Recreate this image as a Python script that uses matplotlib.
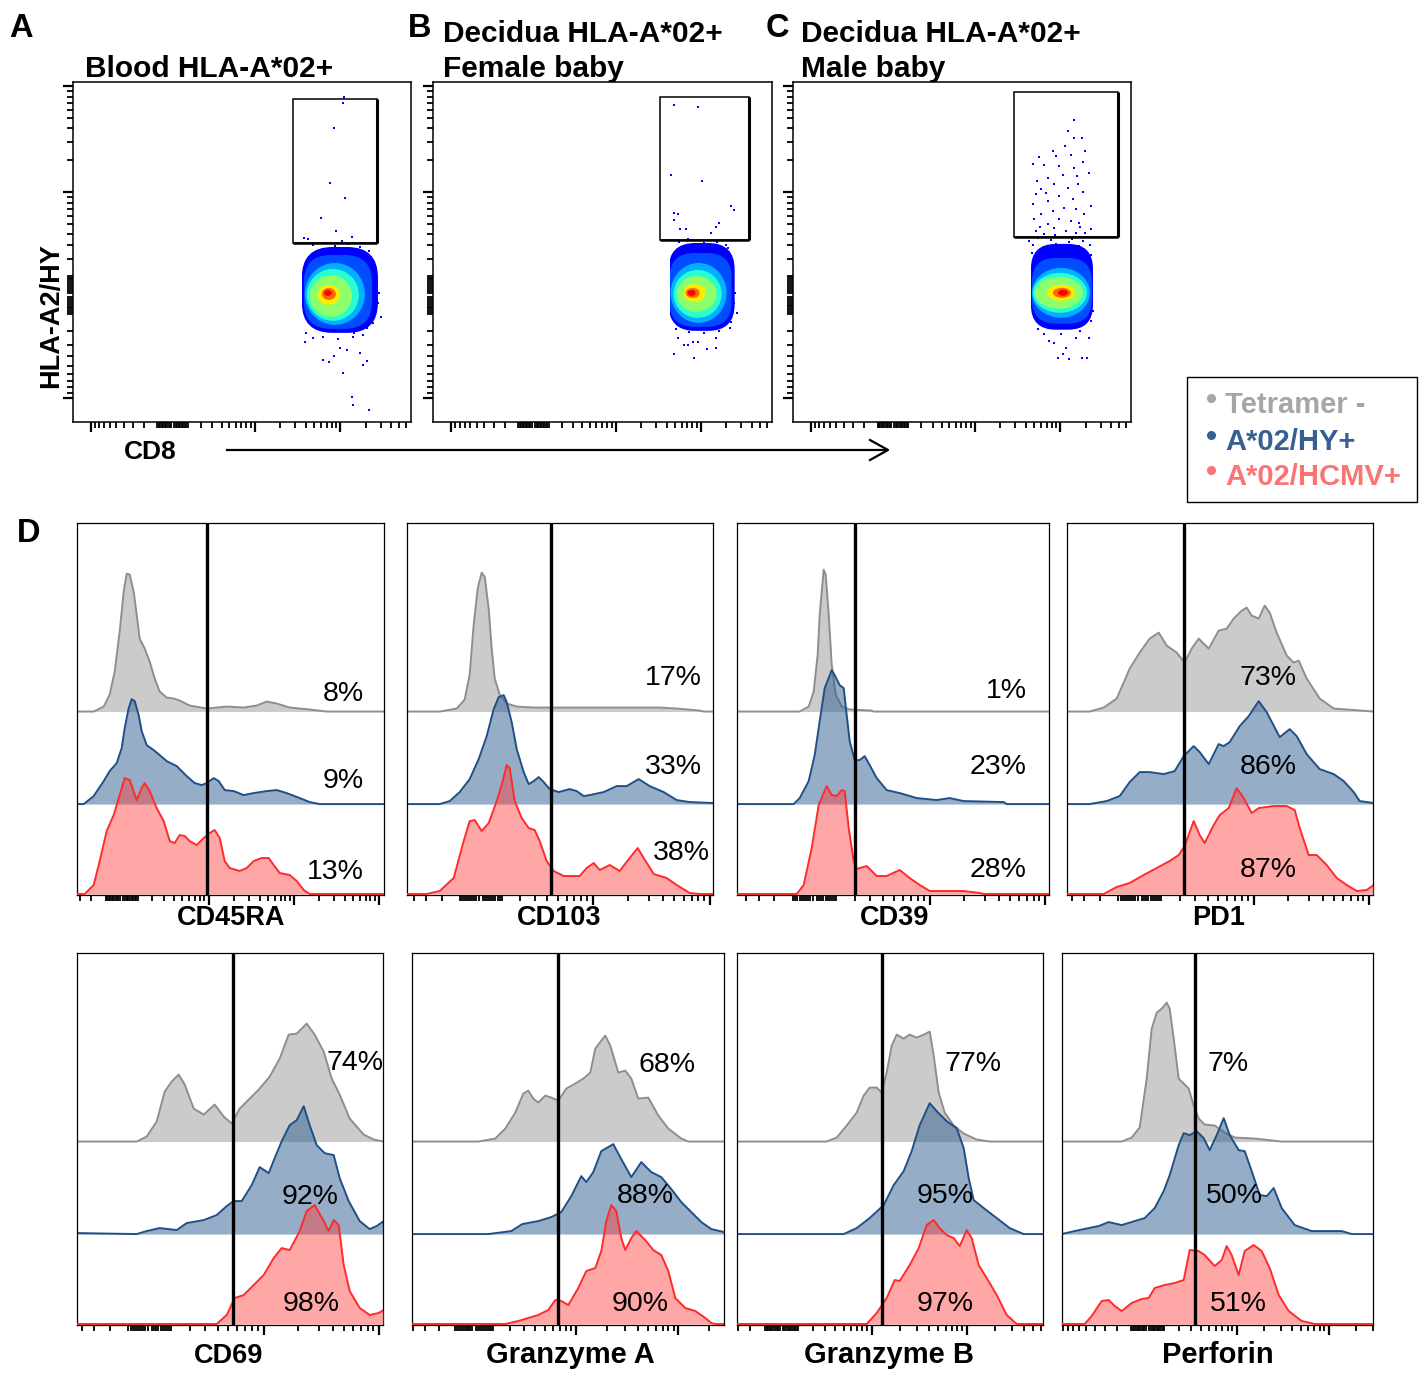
import numpy as np
import matplotlib
matplotlib.use("Agg")
import matplotlib.pyplot as plt
from matplotlib.patches import Ellipse, Rectangle, FancyBboxPatch

plt.rcParams['font.family'] = ['Liberation Sans', 'DejaVu Sans']

W, H = 1424, 1373

# ---------------------------------------------------------------
# Panels A-C: CD8 vs HLA-A2/HY tetramer (display channels)
# ---------------------------------------------------------------
SAMPLES = ['Blood HLA-A*02+', 'Decidua HLA-A*02+\nFemale baby', 'Decidua HLA-A*02+\nMale baby']
TETRAMER_PCT = ['0.03%', '0.06%', '1.5%']

# tetramer+ gates (x0, y0, x1, y1)
BLOOD_GATE = (220, 180, 304, 324)
FEMALE_GATE = (226, 183, 315, 326)
MALE_GATE = (221, 186, 325, 331)

# density contours of the CD8+ cloud, outer -> inner (cx, cy, rx, ry)
BLOOD_LEVELS = [(267, 133, 38, 43), (265, 131, 34, 37), (262, 129, 30, 31), (260, 128, 26, 26),
                (258, 127, 21, 21), (256, 128, 11, 10), (256, 129, 7, 6), (255, 130, 4, 3)]
FEMALE_LEVELS = [(268, 136, 33, 44), (267, 133, 31, 37), (265, 130, 28, 30), (264, 129, 24, 24),
                 (263, 129, 20, 18), (261, 130, 11, 9), (259, 130, 7, 5), (258, 130, 4, 3)]
MALE_LEVELS = [(269, 136, 31, 43), (269, 132, 30, 33), (268, 130, 29, 25), (267, 130, 27, 20),
               (266, 130, 24, 16), (268, 130, 14, 8), (269, 130, 9, 5), (270, 130, 5, 3)]
LEVEL_SHADES = [0.12, 0.2, 0.3, 0.4, 0.52, 0.66, 0.8, 0.9]
CLOUD_EDGE = [229, 236, 238]  # lowest CD8 channel with events

# sparse events outside the dense cloud
BLOOD_EVENTS = [(271, 326), (270, 320), (261, 295), (257, 240), (272, 225), (248, 205), (263, 192),
                (231, 185), (235, 184), (269, 182), (279, 186), (232, 81), (250, 63), (256, 61),
                (261, 67), (267, 75), (274, 73), (287, 70), (270, 50), (290, 58), (294, 62),
                (279, 26), (280, 18), (296, 13), (308, 106), (304, 145), (300, 116), (294, 95),
                (281, 90), (240, 178), (252, 180), (262, 177), (275, 179), (287, 176), (296, 172),
                (300, 160), (303, 150), (306, 130), (305, 120), (300, 100), (290, 88), (280, 86),
                (265, 84), (250, 86), (240, 85), (233, 90)]
FEMALE_EVENTS = [(240, 318), (264, 316), (237, 248), (268, 242), (297, 217), (300, 213), (240, 210),
                 (244, 209), (240, 203), (246, 194), (252, 194), (282, 196), (285, 200), (277, 190),
                 (254, 184), (244, 85), (250, 78), (254, 78), (259, 81), (264, 81), (240, 69),
                 (260, 65), (273, 74), (282, 75), (282, 85), (297, 101), (300, 120), (299, 140),
                 (297, 163), (294, 175), (245, 181), (258, 183), (270, 180), (283, 181), (292, 178),
                 (301, 130), (303, 110), (296, 95), (285, 92), (270, 90), (255, 91), (242, 94)]
MALE_EVENTS = [(281, 303), (275, 292), (281, 285), (289, 285), (272, 277), (278, 268), (263, 267),
               (246, 266), (290, 261), (266, 257), (251, 258), (240, 259), (281, 255), (296, 250),
               (270, 248), (255, 245), (244, 242), (285, 239), (261, 239), (275, 235), (248, 234),
               (290, 231), (243, 229), (266, 227), (280, 224), (255, 222), (298, 217), (240, 219),
               (271, 215), (283, 214), (260, 212), (248, 209), (291, 209), (241, 204), (266, 204),
               (278, 202), (286, 200), (255, 199), (261, 195), (298, 194), (243, 192), (273, 192),
               (283, 190), (251, 189), (245, 185), (258, 183), (268, 186), (279, 184), (290, 182),
               (297, 178), (240, 178), (252, 176), (263, 179), (286, 177), (294, 186), (239, 170),
               (298, 168), (256, 82), (261, 80), (265, 65), (270, 69), (273, 75), (276, 64),
               (289, 65), (294, 65), (283, 85), (296, 85), (245, 94), (251, 89), (268, 89),
               (287, 92), (298, 102), (300, 112), (247, 196), (262, 188), (287, 196), (236, 182),
               (276, 181), (292, 190), (253, 230), (284, 247), (260, 272), (292, 272)]

# ---------------------------------------------------------------
# Panel D: histograms (channel, normalised count) per population
# ---------------------------------------------------------------
CD45RA_NEG = [(17, 0), (27, 5), (33, 17), (38, 40), (43, 80), (47, 120), (50, 138), (53, 137), (57, 120),
              (60, 97), (63, 73), (68, 63), (73, 50), (78, 33), (83, 20), (90, 14), (97, 13), (103, 11),
              (113, 6), (130, 3), (150, 5), (167, 4), (180, 6), (190, 10), (200, 8), (213, 4), (233, 2), (250, 0)]
CD45RA_HY = [(7, 0), (17, 8), (27, 23), (33, 33), (40, 41), (45, 56), (48, 76), (52, 96), (55, 105), (58, 103),
             (62, 89), (65, 73), (70, 59), (77, 54), (83, 49), (90, 43), (100, 38), (110, 28), (118, 21),
             (125, 19), (130, 21), (137, 26), (142, 23), (148, 14), (157, 13), (167, 9), (177, 11), (190, 13),
             (200, 14), (210, 11), (223, 6), (233, 2), (243, 0)]
CD45RA_HCMV = [(8, 0), (17, 9), (23, 33), (30, 63), (37, 79), (43, 99), (48, 116), (53, 114), (60, 94),
               (65, 106), (68, 111), (73, 103), (80, 86), (87, 73), (93, 53), (98, 51), (103, 59), (108, 58),
               (113, 53), (120, 49), (127, 56), (133, 61), (138, 64), (143, 56), (148, 33), (153, 26),
               (163, 23), (170, 26), (177, 33), (185, 36), (192, 36), (197, 29), (203, 21), (213, 19),
               (220, 13), (227, 4), (233, 0)]

CD103_NEG = [(33, 0), (50, 3), (58, 12), (63, 37), (67, 87), (71, 123), (75, 139), (78, 135), (82, 103),
             (85, 63), (88, 33), (93, 17), (100, 8), (110, 5), (127, 4), (193, 4), (253, 4), (270, 3),
             (293, 1), (297, 0)]
CD103_HY = [(33, 0), (43, 3), (53, 12), (63, 25), (72, 45), (80, 68), (87, 95), (92, 107), (97, 109),
            (100, 102), (105, 82), (110, 55), (117, 32), (122, 20), (127, 23), (132, 27), (137, 22),
            (143, 15), (152, 12), (163, 15), (170, 13), (177, 8), (183, 9), (197, 12), (210, 18), (220, 18),
            (232, 25), (243, 18), (257, 12), (270, 4), (283, 2), (307, 1)]
CD103_HCMV = [(20, 0), (33, 3), (47, 16), (57, 53), (63, 73), (68, 74), (75, 63), (82, 71), (90, 93),
              (95, 109), (100, 129), (103, 126), (108, 93), (115, 76), (122, 66), (128, 64), (133, 53),
              (140, 33), (147, 23), (157, 18), (173, 18), (180, 26), (187, 31), (193, 24), (203, 29),
              (213, 23), (223, 36), (231, 46), (237, 36), (247, 20), (260, 16), (270, 9), (283, 1), (293, 0)]

CD39_NEG = [(63, 0), (72, 5), (77, 20), (81, 57), (83, 97), (87, 142), (89, 137), (92, 97), (95, 47),
            (99, 17), (105, 5), (113, 2), (135, 1), (137, 0)]
CD39_HY = [(57, 0), (63, 6), (72, 23), (78, 49), (83, 83), (88, 116), (95, 134), (98, 129), (103, 119),
           (107, 116), (110, 89), (113, 63), (118, 44), (123, 44), (128, 48), (133, 39), (140, 26),
           (150, 14), (163, 11), (180, 6), (200, 4), (213, 6), (227, 3), (267, 2), (270, 0)]
CD39_HCMV = [(60, 0), (67, 9), (75, 46), (82, 89), (90, 108), (95, 99), (100, 98), (105, 104), (108, 103),
             (112, 66), (117, 33), (120, 25), (130, 28), (140, 18), (150, 18), (163, 24), (173, 16),
             (183, 9), (193, 3), (227, 3), (243, 1), (247, 0)]

PD1_NEG = [(23, 0), (37, 4), (50, 13), (57, 29), (63, 43), (73, 59), (83, 73), (92, 79), (100, 66),
           (110, 59), (118, 49), (125, 63), (132, 73), (142, 63), (152, 81), (160, 83), (167, 93),
           (175, 101), (180, 104), (185, 96), (192, 93), (198, 106), (203, 99), (210, 79), (220, 56),
           (227, 49), (232, 51), (240, 33), (253, 13), (267, 3), (307, 0)]
PD1_HY = [(23, 0), (40, 3), (53, 8), (63, 22), (73, 32), (83, 32), (97, 30), (108, 33), (117, 48),
          (127, 58), (133, 52), (142, 40), (152, 60), (157, 58), (163, 62), (173, 78), (182, 88),
          (192, 103), (200, 92), (213, 67), (223, 75), (230, 68), (240, 50), (253, 35), (267, 30),
          (277, 23), (287, 12), (293, 3), (307, 1)]
PD1_HCMV = [(37, 0), (50, 7), (63, 11), (77, 19), (90, 26), (103, 33), (112, 39), (118, 48), (127, 73),
            (133, 59), (138, 51), (147, 69), (153, 79), (162, 86), (170, 106), (177, 96), (185, 81),
            (192, 86), (207, 88), (220, 88), (228, 84), (233, 66), (242, 39), (250, 39), (260, 29),
            (270, 16), (280, 9), (290, 3), (300, 4), (307, 9)]

CD69_NEG = [(60, 0), (70, 5), (80, 20), (88, 50), (95, 60), (102, 67), (108, 57), (117, 33), (127, 27),
            (138, 37), (147, 25), (155, 18), (163, 33), (173, 43), (183, 53), (193, 65), (203, 83),
            (212, 107), (220, 108), (230, 118), (238, 107), (247, 90), (255, 63), (263, 47), (273, 23),
            (287, 7), (297, 2), (307, 0)]
CD69_HY = [(0, 1), (60, 0), (70, 3), (83, 6), (100, 4), (110, 11), (127, 14), (140, 19), (150, 28),
           (157, 33), (165, 33), (175, 49), (183, 67), (192, 61), (198, 76), (205, 93), (213, 109),
           (220, 114), (227, 128), (233, 109), (240, 89), (248, 81), (257, 79), (263, 56), (272, 33),
           (283, 13), (293, 5), (300, 8), (307, 13)]
CD69_HCMV = [(140, 0), (150, 9), (158, 26), (167, 29), (177, 39), (187, 49), (197, 66), (205, 76),
             (213, 74), (223, 93), (230, 113), (238, 119), (247, 103), (252, 93), (257, 104), (262, 99),
             (267, 59), (273, 33), (283, 16), (293, 9), (302, 11), (307, 14)]

GZMA_NEG = [(66, 0), (83, 3), (93, 13), (103, 29), (111, 48), (116, 51), (121, 43), (126, 39), (133, 46),
            (139, 44), (146, 41), (154, 53), (163, 58), (171, 63), (178, 69), (183, 93), (189, 101),
            (193, 106), (198, 96), (206, 69), (213, 71), (219, 63), (226, 43), (236, 44), (246, 26),
            (256, 13), (269, 3), (276, 0)]
GZMA_HY = [(76, 0), (99, 3), (110, 10), (126, 13), (139, 17), (149, 22), (159, 38), (169, 58), (174, 52),
           (181, 62), (189, 83), (201, 90), (209, 75), (219, 57), (229, 72), (239, 62), (249, 57),
           (259, 45), (269, 32), (279, 22), (289, 12), (299, 5), (312, 2)]
GZMA_HCMV = [(93, 0), (106, 3), (126, 9), (136, 14), (143, 24), (149, 23), (156, 19), (166, 36),
             (174, 53), (183, 56), (189, 73), (194, 103), (199, 119), (204, 113), (209, 86), (213, 74),
             (219, 86), (224, 93), (233, 84), (241, 74), (249, 69), (256, 53), (263, 26), (273, 16),
             (283, 13), (293, 6), (299, 1), (303, 0)]

GZMB_NEG = [(90, 0), (100, 4), (110, 16), (120, 29), (127, 46), (133, 54), (140, 54), (145, 49), (150, 69),
            (155, 96), (160, 107), (167, 103), (173, 107), (180, 104), (187, 107), (193, 110), (197, 86),
            (202, 49), (208, 29), (217, 16), (227, 8), (240, 2), (253, 0)]
GZMB_HY = [(107, 0), (120, 6), (133, 16), (147, 29), (157, 49), (167, 63), (175, 83), (183, 109),
           (193, 131), (200, 123), (210, 113), (220, 106), (227, 86), (232, 56), (237, 34), (247, 26),
           (260, 16), (273, 6), (287, 0)]
GZMB_HCMV = [(130, 0), (140, 11), (150, 26), (158, 44), (163, 43), (173, 59), (182, 76), (190, 99),
             (197, 104), (203, 96), (210, 89), (217, 86), (223, 78), (230, 94), (235, 86), (242, 59),
             (250, 46), (260, 29), (270, 9), (280, 0)]

PERFORIN_NEG = [(60, 0), (70, 4), (78, 14), (85, 63), (90, 113), (95, 129), (100, 133), (105, 139),
                (108, 133), (112, 103), (117, 63), (122, 58), (127, 53), (132, 36), (137, 23), (143, 17),
                (153, 16), (163, 9), (173, 4), (193, 3), (220, 0)]
PERFORIN_HY = [(0, 0), (13, 3), (27, 6), (37, 8), (47, 12), (60, 9), (73, 13), (83, 16), (93, 26),
               (102, 43), (108, 59), (117, 89), (122, 101), (128, 99), (135, 103), (142, 96), (148, 84),
               (155, 99), (162, 116), (168, 99), (177, 84), (183, 83), (190, 63), (198, 39), (205, 38),
               (212, 46), (220, 26), (233, 9), (250, 3), (263, 3), (280, 3), (290, 0)]
PERFORIN_HCMV = [(23, 0), (30, 8), (40, 23), (47, 24), (53, 18), (60, 13), (70, 21), (80, 25), (87, 26),
                 (93, 36), (103, 39), (113, 41), (122, 44), (128, 74), (137, 73), (143, 69), (153, 58),
                 (160, 64), (165, 78), (170, 69), (177, 49), (183, 73), (192, 79), (200, 73), (208, 56),
                 (217, 29), (227, 13), (240, 3), (253, 0)]

MARKERS = ['CD45RA', 'CD103', 'CD39', 'PD1', 'CD69', 'Granzyme A', 'Granzyme B', 'Perforin']
NEG_CURVES = [CD45RA_NEG, CD103_NEG, CD39_NEG, PD1_NEG, CD69_NEG, GZMA_NEG, GZMB_NEG, PERFORIN_NEG]
HY_CURVES = [CD45RA_HY, CD103_HY, CD39_HY, PD1_HY, CD69_HY, GZMA_HY, GZMB_HY, PERFORIN_HY]
HCMV_CURVES = [CD45RA_HCMV, CD103_HCMV, CD39_HCMV, PD1_HCMV, CD69_HCMV, GZMA_HCMV, GZMB_HCMV, PERFORIN_HCMV]
# % positive (Tetramer-, A*02/HY+, A*02/HCMV+)
PCT_POS = [[8, 9, 13], [17, 33, 38], [1, 23, 28], [73, 86, 87],
           [74, 92, 98], [68, 88, 90], [77, 95, 97], [7, 50, 51]]
GATES = [130, 144, 118, 117, 156, 146, 145, 133]

# ---------------------------------------------------------------
# layout (figure pixels)
# ---------------------------------------------------------------
DOT_BOXES = [(72.5, 82.3, 411, 421.7), (433.3, 82.3, 771.7, 421.7), (792.7, 82.3, 1131, 421.5)]
HIST_BOXES = [(76.7, 523.3, 384.3, 895), (406.7, 523.3, 713.3, 895), (736.7, 523.3, 1049, 895),
              (1066.7, 523.3, 1373.3, 895), (76.7, 953.3, 383.3, 1325), (412.3, 953.3, 724.3, 1325),
              (736.7, 953.3, 1043.3, 1325), (1061.7, 953.3, 1373, 1325)]
# axis calibration: zero channel, 10^3 channel, decade width
HIST_SCALES = [(45, 132, 85), (74, 186, 117), (78, 193, 115), (73, 187, 115),
               (73, 187, 115), (62, 164, 102), (45, 135, 95), (86, 175, 92)]
PCT_ANCHORS = [[(287, 203), (287, 116), (287, 25)], [(295, 219), (295, 130), (303, 44)],
               [(290, 206), (290, 130), (290, 27)], [(230, 219), (230, 130), (230, 27)],
               [(307, 264), (262, 130), (263, 23)], [(283, 262), (261, 131), (256, 23)],
               [(265, 263), (237, 131), (237, 23)], [(187, 263), (201, 131), (205, 23)]]
LABEL_XY = [(231.5, 925), (559, 925), (895, 925), (1219, 925),
            (228.5, 1363), (570, 1363), (889, 1363), (1218, 1363)]
LABEL_SIZE = [19.5, 19.5, 19.5, 19.5, 19.5, 21, 21, 21]

OFFSETS = [182.6, 90, 0]
FACES = ['#999999', '#2c5d8f', '#ff3a3a']
ALPHAS = [0.5, 0.5, 0.45]
EDGES = ['#8e8e8e', '#1f4f86', '#ff2b2b']

fig = plt.figure(figsize=(W / 100, H / 100), dpi=100)

bg = fig.add_axes([0, 0, 1, 1])
bg.set_xlim(0, W)
bg.set_ylim(H, 0)
bg.axis('off')


def px_axes(left, top, right, bottom):
    return fig.add_axes([left / W, 1 - bottom / H, (right - left) / W, (bottom - top) / H])


def biex_ticks(zero, p3, decade, lo, hi):
    major, minor = [], []
    span = p3 - zero
    for sign in (1, -1):
        for k in range(1, 6):
            for m in range(1, 10):
                v = m * 10 ** k
                if v <= 1000:
                    pos = zero + sign * span * np.arcsinh(v / 250) / np.arcsinh(4)
                else:
                    pos = zero + sign * (span + decade * np.log10(v / 1000))
                if lo <= pos <= hi:
                    (major if v in (1000, 10000, 100000) else minor).append(pos)
    return major, minor


def style_ticks(ax, axis, scale, lo, hi):
    major, minor = biex_ticks(*scale, lo, hi)
    if axis == 'x':
        ax.set_xticks(major)
        ax.set_xticks(minor, minor=True)
        ax.set_xticklabels([])
    else:
        ax.set_yticks(major)
        ax.set_yticks(minor, minor=True)
        ax.set_yticklabels([])
    ax.tick_params(axis=axis, which='major', direction='out', length=7, width=1.6, color='black')
    ax.tick_params(axis=axis, which='minor', direction='out', length=4.5, width=1.3, color='black')


# ---- A-C dot plots ----
levels_all = [BLOOD_LEVELS, FEMALE_LEVELS, MALE_LEVELS]
events_all = [BLOOD_EVENTS, FEMALE_EVENTS, MALE_EVENTS]
gates_all = [BLOOD_GATE, FEMALE_GATE, MALE_GATE]
for i, box in enumerate(DOT_BOXES):
    ax = px_axes(*box)
    ax.set_xlim(0, 338)
    ax.set_ylim(1, 341)
    clip = Rectangle((CLOUD_EDGE[i], 0), 400, 400, transform=ax.transData)
    for k, (lev, shade) in enumerate(zip(levels_all[i], LEVEL_SHADES)):
        cx, cy, rx, ry = lev
        if k < 2:
            # outer, low-density shells are boxier than the core
            shell = FancyBboxPatch((cx - rx, cy - ry), 2 * rx, 2 * ry,
                                   boxstyle=f'round,pad=0,rounding_size={0.8 * min(rx, ry)}',
                                   color=plt.cm.jet(shade), lw=0)
        else:
            shell = Ellipse((cx, cy), 2 * rx, 2 * ry, color=plt.cm.jet(shade), lw=0)
        ax.add_patch(shell)
        shell.set_clip_path(clip)
    ex = [p[0] for p in events_all[i]]
    ey = [p[1] for p in events_all[i]]
    ax.scatter(ex, ey, s=3.5, marker='s', color='#0000ff', linewidths=0)
    x0, y0, x1, y1 = gates_all[i]
    ax.add_patch(Rectangle((x0, y0), x1 - x0, y1 - y0, fill=False, ec='black', lw=1.1))
    ax.plot([x1, x1], [y0, y1], color='black', lw=2.2, solid_capstyle='butt')
    ax.plot([x0, x1], [y0, y0], color='black', lw=1.8, solid_capstyle='butt')
    for s in ax.spines.values():
        s.set_linewidth(1.1)
    style_ticks(ax, 'x', (100, 182, 85), 0, 338)
    style_ticks(ax, 'y', (128, 231, 106), 1, 341)
    ax.tick_params(top=False, right=False)

# panel letters, titles, axis labels for A-C
bg.text(9, 37, 'A', fontsize=23.5, fontweight='bold', va='baseline')
bg.text(408, 37, 'B', fontsize=23.5, fontweight='bold', va='baseline')
bg.text(766, 37, 'C', fontsize=23.5, fontweight='bold', va='baseline')
bg.text(17, 542, 'D', fontsize=23.5, fontweight='bold', va='baseline')

title_x = [85, 443, 801]
for i, title in enumerate(SAMPLES):
    lines = title.split('\n')
    if len(lines) == 1:
        bg.text(title_x[i], 77, lines[0], fontsize=21.5, fontweight='bold', va='baseline')
    else:
        bg.text(title_x[i], 42, lines[0], fontsize=21.5, fontweight='bold', va='baseline')
        bg.text(title_x[i], 77, lines[1], fontsize=21.5, fontweight='bold', va='baseline')

pct_x = [199, 503, 925]
for i, lab in enumerate(TETRAMER_PCT):
    bg.text(pct_x[i], 189, lab, fontsize=17.5, va='baseline', ha='left')

bg.text(51, 316, 'HLA-A2/HY', fontsize=19.5, fontweight='bold', rotation=90, ha='center', va='center')
bg.text(150, 459, 'CD8', fontsize=19, fontweight='bold', ha='center', va='baseline')
bg.plot([227, 886], [450, 450], color='black', lw=1.6)
bg.plot([870, 888, 870], [440, 450, 460], color='black', lw=1.6)

# legend
bg.add_patch(Rectangle((1187.3, 376.7), 230, 125, fill=False, ec='black', lw=1.0))
leg_labels = ['Tetramer -', 'A*02/HY+', 'A*02/HCMV+']
leg_colors = ['#a6a6a6', '#376092', '#fa7474']
leg_base = [413, 450, 485]
for lab, col, yb in zip(leg_labels, leg_colors, leg_base):
    bg.plot(1211, yb - 15, 'o', color=col, markersize=5.5)
    bg.text(1225, yb, lab, color=col, fontsize=21, fontweight='bold', va='baseline')

# ---- D histograms ----
for i, box in enumerate(HIST_BOXES):
    ax = px_axes(*box)
    width = box[2] - box[0]
    ax.set_xlim(0, width)
    ax.set_ylim(-1, 371)
    curves = [NEG_CURVES[i], HY_CURVES[i], HCMV_CURVES[i]]
    for j, pts in enumerate(curves):
        xs = np.array([-20] + [p[0] for p in pts] + [width + 20], dtype=float)
        ys = np.array([0] + [p[1] for p in pts] + [0], dtype=float) + OFFSETS[j]
        ax.fill_between(xs, OFFSETS[j], ys, color=FACES[j], alpha=ALPHAS[j], lw=0, zorder=1 + j)
        ax.plot(xs, ys, color=EDGES[j], lw=1.4, zorder=1.5 + j)
    ax.axvline(GATES[i], color='black', lw=2.4, zorder=6)
    for (tx, ty), val in zip(PCT_ANCHORS[i], PCT_POS[i]):
        ax.text(tx, ty - 10, f'{val}%', fontsize=20.5, ha='right', va='baseline', zorder=7)
    for s in ax.spines.values():
        s.set_linewidth(0.9)
    ax.set_yticks([])
    style_ticks(ax, 'x', HIST_SCALES[i], 0, width)
    ax.tick_params(top=False)
    lx, ly = LABEL_XY[i]
    bg.text(lx, ly, MARKERS[i], fontsize=LABEL_SIZE[i], fontweight='bold', ha='center', va='baseline')

fig.savefig('out.png', dpi=100)
